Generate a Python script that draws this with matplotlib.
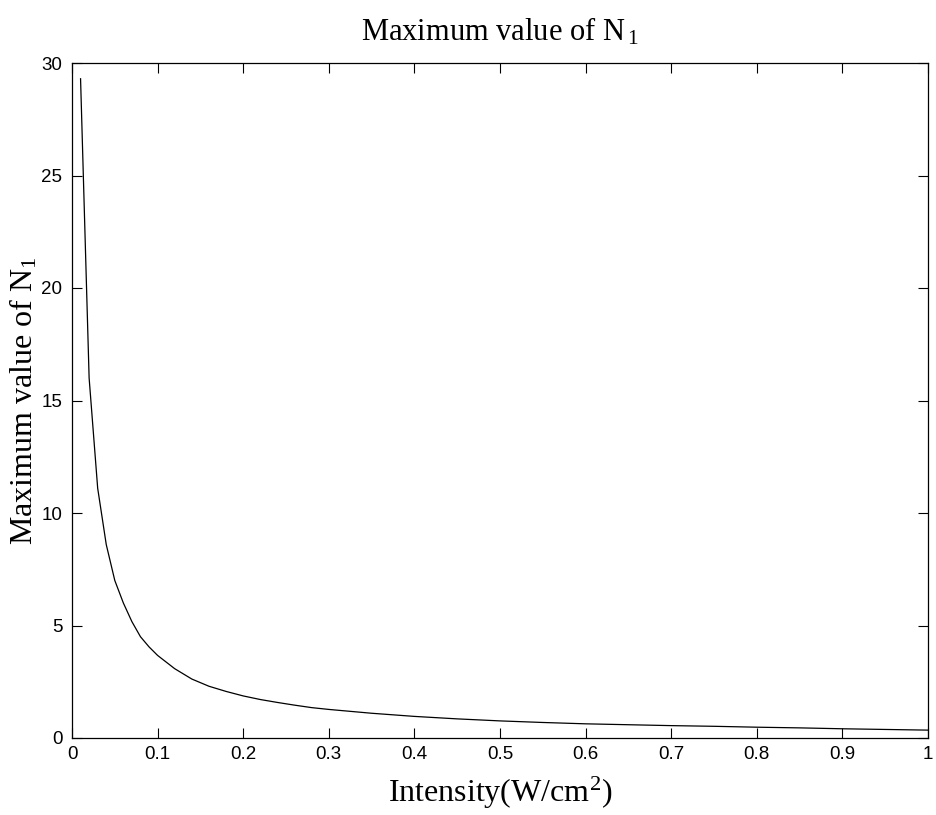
import matplotlib
matplotlib.use("Agg")
import matplotlib.pyplot as plt

intensity = [0.01, 0.02, 0.03, 0.04, 0.05, 0.06, 0.07, 0.08, 0.09, 0.10,
             0.12, 0.14, 0.16, 0.18, 0.20, 0.22, 0.24, 0.26, 0.28, 0.30,
             0.35, 0.40, 0.45, 0.50, 0.55, 0.60, 0.65, 0.70, 0.75, 0.80,
             0.85, 0.90, 0.95, 1.00]
max_n1 = [29.3, 16.0, 11.1, 8.6, 7.0, 6.0, 5.17, 4.5, 4.05, 3.67,
          3.08, 2.62, 2.30, 2.07, 1.87, 1.71, 1.58, 1.46, 1.35, 1.27,
          1.10, 0.96, 0.85, 0.76, 0.69, 0.63, 0.59, 0.55, 0.52, 0.48,
          0.45, 0.41, 0.38, 0.35]
xticks = [0, 0.1, 0.2, 0.3, 0.4, 0.5, 0.6, 0.7, 0.8, 0.9, 1]
xticklabels = ["0", "0.1", "0.2", "0.3", "0.4", "0.5", "0.6", "0.7", "0.8", "0.9", "1"]
yticks = [0, 5, 10, 15, 20, 25, 30]

plt.rcParams['mathtext.fontset'] = 'custom'
plt.rcParams['mathtext.rm'] = 'Liberation Serif'
plt.rcParams['mathtext.it'] = 'Liberation Serif'

fig = plt.figure(figsize=(9.36, 8.15), dpi=100)
ax = fig.add_axes([72/936, 77/815, (928-72)/936, (738-63)/815])
ax.plot(intensity, max_n1, color='black', linewidth=0.9)
ax.set_xlim(0, 1)
ax.set_ylim(0, 30)
ax.set_xticks(xticks)
ax.set_xticklabels(xticklabels)
ax.set_yticks(yticks)
ax.tick_params(direction='in', length=7, width=0.8, top=True, right=True,
               labelsize=13.5)
ax.tick_params(axis='x', pad=6)
ax.tick_params(axis='y', pad=7)
for lab in ax.get_xticklabels() + ax.get_yticklabels():
    lab.set_fontfamily('Liberation Sans')
for s in ax.spines.values():
    s.set_linewidth(0.9)

serif = 'Liberation Serif'
ax.set_title(r'Maximum value of N$_{\mathregular{\,1}}$', fontsize=22, family=serif, pad=16)
ax.set_xlabel(r'Intensity(W/cm$^{\mathregular{2}}$)', fontsize=23, family=serif, labelpad=8)
ax.set_ylabel(r'Maximum value of N$_{\mathregular{1}}$', fontsize=23, family=serif, labelpad=1)

fig.savefig('out.png', dpi=100)
